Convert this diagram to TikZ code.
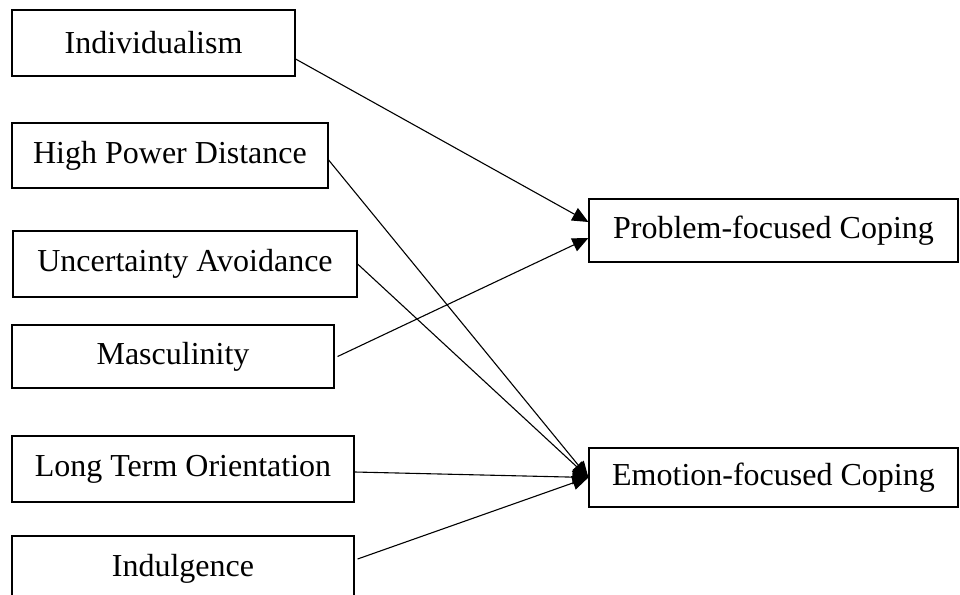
\documentclass[tikz,border=0pt]{standalone}
\usepackage{fontspec}
\setmainfont{Liberation Serif}
\usetikzlibrary{positioning}
\usetikzlibrary{arrows.meta}

\begin{document}
\begin{tikzpicture}[
x=0.5pt, y=-0.5pt,
dimensionnode/.style={rectangle, draw=black, line width=0.6pt, minimum height=33pt, inner sep=0pt, align=center, font=\fontsize{16}{19}\selectfont},
copingnode/.style={rectangle, draw=black, line width=0.6pt, minimum width=184.5pt, inner sep=0pt, align=center, font=\fontsize{16}{19}\selectfont},
effect/.style={-{Triangle[length=8pt,width=7pt]}, line width=0.55pt},
]
\useasboundingbox (0,0) rectangle (960,595);
%Nodes
\node[dimensionnode, minimum width=141.5pt]		(indiv)		at (153.5,43)		{Individualism};
\node[dimensionnode, minimum width=158pt, minimum height=32.5pt]	(powerdist)	at (170,155.5)		{High Power Distance};
\node[dimensionnode, minimum width=172pt]		(uncert)	at (185,264)		{Uncertainty Avoidance};
\node[dimensionnode, minimum width=161pt, minimum height=31.5pt]	(masc)		at (173,356.5)		{Masculinity};
\node[dimensionnode, minimum width=171pt]		(longterm)	at (183,469)		{Long Term Orientation};
\node[dimensionnode, minimum width=171pt]		(indulg)	at (183,569)		{Indulgence};
\node[copingnode, minimum height=31.5pt]		(problem)	at (773.5,230.5)	{Problem-focused Coping};
\node[copingnode, minimum height=29.5pt]		(emotion)	at (773.5,477.5)	{Emotion-focused Coping};

%Lines
\draw[effect] ([yshift=-8pt]indiv.east) -- ([yshift=4.25pt]problem.west);
\draw[effect] ([xshift=1.5pt]masc.east) -- ([yshift=-3.75pt]problem.west);
\draw[effect] ([yshift=-2.25pt]powerdist.east) -- (emotion.west);
\draw[effect] (uncert.east) -- (emotion.west);
\draw[effect] ([yshift=-1.5pt]longterm.east) -- (emotion.west);
\draw[effect] ([yshift=5pt,xshift=1.5pt]indulg.east) -- (emotion.west);
\end{tikzpicture}
\end{document}
